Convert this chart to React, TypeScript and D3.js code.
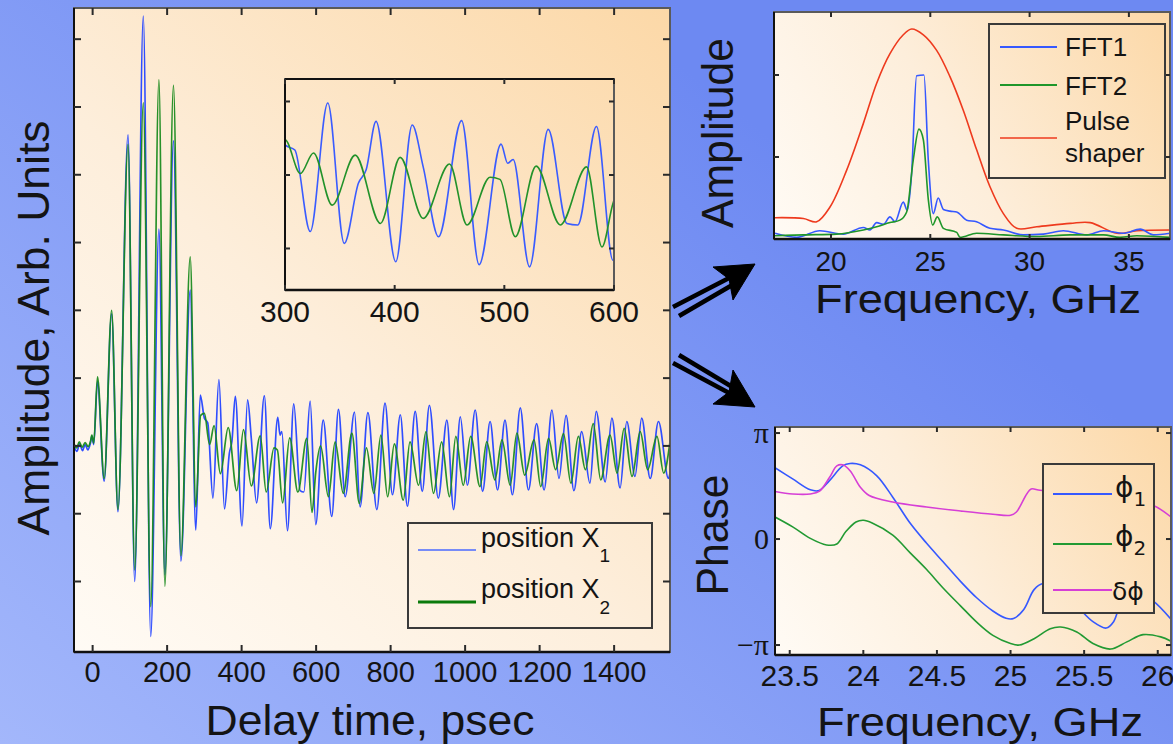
import React from 'react';
import * as d3 from 'd3';

// ---------- data ----------
// time trace at position X1: delay time (psec) / amplitude (arb. units)
const x1Time = [-50, -42, -35, -27, -20, -13, -6, -2, 3, 13, 31, 51, 68, 95, 113, 136, 156, 178, 194, 217, 237, 262, 277, 289,
  300, 309, 323, 339, 354, 367, 374, 383, 401, 416, 426, 440, 461, 477, 497, 503, 508, 523, 540, 557, 567, 584, 599,
  619, 642, 660, 678, 703, 718, 739, 763, 785, 805, 826, 845, 866, 885, 904, 928, 951, 969, 987, 1006, 1027, 1047,
  1067, 1087, 1107, 1127, 1148, 1170, 1192, 1212, 1233, 1252, 1271, 1292, 1313, 1335, 1352, 1376, 1394, 1416, 1434,
  1456, 1474, 1497, 1519, 1546, 1550];
const x1Amp = [0.0, -0.08, 0.03, -0.07, 0.02, -0.06, 0.04, 0.14, 0.02, 0.95, -0.52, 1.95, -0.97, 4.59, -2.0, 6.34, -2.81, 3.2, -1.9, 4.5, -1.7, 2.3, -1.24, 0.75,
  0.41, 0.34, -0.77, 0.98, -0.93, -0.11, 0.07, 0.73, -1.18, 0.68, 0.11, -0.84, 0.74, -1.22, 0.42, 0.16, 0.21, -1.25, 0.62, -0.66, -0.68, 0.66, -1.16,
  0.38, -1.04, 0.54, -0.75, 0.5, -0.9, 0.49, -0.94, 0.63, -0.72, 0.46, -0.89, 0.51, -0.67, 0.6, -0.77, 0.38, -0.94, 0.43, -0.58, 0.53, -0.67,
  0.36, -0.65, 0.38, -0.72, 0.56, -0.65, 0.33, -0.65, 0.53, -0.48, 0.45, -0.66, 0.21, -0.55, 0.51, -0.53, 0.41, -0.62, 0.36,
  -0.45, 0.41, -0.48, 0.36, -0.48, -0.4];

// time trace at position X2
const x2Time = [-50, -43, -36, -28, -20, -12, -6, -2, 3, 13, 31, 51, 68, 95, 113, 136, 156, 178, 194, 217, 237, 262, 277, 290,
  300, 314, 326, 343, 364, 387, 405, 426, 450, 466, 487, 496, 510, 529, 551, 575, 589, 599,
  612, 633, 651, 673, 696, 716, 735, 755, 774, 792, 810, 834, 852, 875, 895, 915, 937, 958, 975, 995, 1015, 1040,
  1058, 1080, 1099, 1121, 1139, 1160, 1185, 1203, 1224, 1243, 1264, 1284, 1304, 1323, 1344, 1364, 1389, 1408, 1427,
  1448, 1470, 1490, 1515, 1533, 1550];
const x2Amp = [0.03, -0.03, 0.06, -0.02, 0.05, -0.01, 0.06, 0.16, 0.04, 1.02, -0.48, 2.0, -0.94, 4.45, -1.83, 5.06, -2.37, 5.4, -2.07, 5.32, -1.62, 2.79, -0.9, 0.45,
  0.48, 0.02, 0.3, -0.41, 0.27, -0.66, 0.24, -0.59, 0.15, -0.68, -0.03, -0.06, -0.84, 0.12, -0.68, 0.11, -0.98, -0.39,
  0.0, -0.75, 0.06, -0.7, 0.19, -0.85, -0.03, -0.7, 0.16, -0.75, 0.03, -0.8, 0.06, -0.58, 0.21, -0.7, 0.06, -0.75, 0.14, -0.58, 0.14, -0.6,
  0.06, -0.5, 0.09, -0.58, 0.19, -0.43, 0.09, -0.6, 0.11, -0.35, 0.18, -0.55, 0.14, -0.35, 0.33, -0.5, 0.16, -0.4, 0.26,
  -0.45, 0.21, -0.35, 0.14, -0.4, 0.06];

// spectra: frequency (GHz) / amplitude
const fft1Freq = [17.18, 18.27, 19.44, 20.62, 21.63, 21.96, 22.3, 22.64, 22.97, 23.22, 23.64, 23.84, 24.06, 24.31, 24.68, 24.9,
  25.15, 25.4, 25.66, 25.99, 26.33, 26.83, 27.33, 28.0, 28.68, 29.68, 30.7, 31.7, 32.88, 33.72, 34.72, 35.57, 36.24, 37.08];
const fft1Amp = [0.07, 0.02, 0.1, 0.06, 0.14, 0.11, 0.2, 0.18, 0.27, 0.21, 0.45, 0.35, 0.8, 1.99, 2.0, 0.96,
  0.31, 0.5, 0.36, 0.34, 0.33, 0.23, 0.21, 0.13, 0.11, 0.05, 0.06, 0.1, 0.05, 0.1, 0.07, 0.12, 0.05, 0.07];
const fft2Freq = [17.18, 18.61, 20.28, 21.63, 22.3, 22.97, 23.47, 23.81, 24.14, 24.43, 24.65, 24.9, 25.12, 25.35, 25.66,
  26.33, 26.5, 27.33, 28.68, 30.36, 32.04, 33.72, 34.55, 35.4, 37.08];
const fft2Amp = [0.04, 0.05, 0.06, 0.11, 0.15, 0.2, 0.23, 0.33, 0.96, 1.34, 1.21, 0.48, 0.17, 0.27, 0.13,
  0.08, 0.02, 0.07, 0.05, 0.03, 0.05, 0.05, 0.02, 0.04, 0.02];
const pulseFreq = [17.18, 18.61, 19.28, 19.95, 20.79, 21.63, 22.3, 22.97, 23.64, 24.06, 24.65, 25.32, 25.99, 26.66, 27.33,
  28.0, 28.68, 29.35, 30.36, 32.04, 33.05, 34.39, 35.4, 37.08];
const pulseAmp = [0.26, 0.25, 0.21, 0.39, 0.84, 1.41, 1.9, 2.26, 2.49, 2.56, 2.49, 2.3, 1.98, 1.57, 1.09,
  0.64, 0.31, 0.13, 0.15, 0.19, 0.2, 0.07, 0.1, 0.11];

// phases: frequency (GHz) / phase in units of pi
const phi1Freq = [23.4, 23.52, 23.64, 23.7, 23.77, 23.86, 23.91, 23.98, 24.09, 24.2, 24.32, 24.43, 24.54, 24.66, 24.77, 24.88,
  24.97, 25.02, 25.09, 25.16, 25.22, 25.34, 25.47, 25.56, 25.65, 25.7, 25.75, 25.8, 25.88, 25.97, 26.09];
const phi1 = [0.673, 0.567, 0.464, 0.458, 0.551, 0.69, 0.713, 0.7, 0.598, 0.395, 0.146, -0.04, -0.212, -0.399, -0.554, -0.679,
  -0.748, -0.75, -0.664, -0.477, -0.42, -0.46, -0.66, -0.78, -0.84, -0.78, -0.6, -0.52, -0.52, -0.586, -0.757];
const phi2Freq = [23.4, 23.52, 23.64, 23.75, 23.82, 23.88, 23.95, 24.0, 24.06, 24.2, 24.32, 24.43, 24.54, 24.66, 24.77, 24.88,
  25.0, 25.06, 25.16, 25.27, 25.34, 25.45, 25.56, 25.68, 25.79, 25.9, 26.02, 26.09];
const phi2 = [0.208, 0.115, 0.006, -0.056, -0.047, 0.068, 0.161, 0.177, 0.152, 0.037, -0.133, -0.288, -0.459, -0.63, -0.784, -0.909,
  -0.986, -1.0, -0.94, -0.846, -0.83, -0.877, -0.986, -1.038, -0.97, -0.902, -0.923, -0.964];
const dphiFreq = [23.4, 23.52, 23.64, 23.7, 23.77, 23.82, 23.86, 23.91, 23.98, 24.04, 24.2, 24.43, 24.66, 24.88, 25.0, 25.04,
  25.11, 25.14, 25.2, 25.4, 25.6, 25.8, 25.97, 26.09];
const dphi = [0.449, 0.425, 0.425, 0.449, 0.58, 0.69, 0.7, 0.645, 0.489, 0.411, 0.349, 0.302, 0.265, 0.234, 0.224, 0.255,
  0.425, 0.472, 0.46, 0.43, 0.4, 0.36, 0.316, 0.208];

// ticks
const timeTicks = [0, 200, 400, 600, 800, 1000, 1200, 1400];
const ampTicks = [-2, -1, 0, 1, 2, 3, 4, 5, 6];
const insetTicks = [300, 400, 500, 600];
const insetAmpTicks = [-1, 0, 1];
const fftTicks = [20, 25, 30, 35];
const fftAmpTicks = [1, 2];
const phaseFreqTicks = [23.5, 24, 24.5, 25, 25.5, 26];
const phaseFreqLabels = ['23.5', '24', '24.5', '25', '25.5', '26'];
const phaseTicks = [-1, 0, 1];
const phaseTickLabels = ['\u2212\u03c0', '0', '\u03c0'];

const FONT = "'Liberation Sans', Arial, Helvetica, sans-serif";
const INK = '#141414';

const zip = (xs: number[], ys: number[]) => xs.map((x, i) => [x, ys[i]] as [number, number]);

type Box = { l: number; r: number; t: number; b: number };

function Ticks({ box, xs, ys, sx, sy, len = 7 }: any) {
  const b: Box = box;
  return (
    <g stroke="#2a2a2a" strokeWidth={2}>
      {xs.map((v: number) => (
        <g key={'x' + v}>
          <line x1={sx(v)} x2={sx(v)} y1={b.b} y2={b.b - len} />
          <line x1={sx(v)} x2={sx(v)} y1={b.t} y2={b.t + len} />
        </g>
      ))}
      {ys.map((v: number) => (
        <g key={'y' + v}>
          <line x1={b.l} x2={b.l + len} y1={sy(v)} y2={sy(v)} />
          <line x1={b.r} x2={b.r - len} y1={sy(v)} y2={sy(v)} />
        </g>
      ))}
    </g>
  );
}

function Frame({ box }: { box: Box }) {
  return (
    <g fill="none">
      <rect x={box.l} y={box.t} width={box.r - box.l} height={box.b - box.t} stroke="#5a5a5a" strokeWidth={2} />
      <line x1={box.l} x2={box.l} y1={box.t} y2={box.b} stroke="#111" strokeWidth={2} />
      <line x1={box.l} x2={box.r} y1={box.b} y2={box.b} stroke="#111" strokeWidth={2.5} />
    </g>
  );
}

export default function App() {
  const mainBox: Box = { l: 74, r: 670, t: 8, b: 652 };
  const insetBox: Box = { l: 285, r: 614, t: 79, b: 290 };
  const fftBox: Box = { l: 774, r: 1170, t: 12, b: 239 };
  const phBox: Box = { l: 775, r: 1171, t: 427, b: 655 };

  const xMain = d3.scaleLinear().domain([-50, 1550]).range([mainBox.l, mainBox.r]);
  const yMain = d3.scaleLinear().domain([-3.04, 6.46]).range([mainBox.b, mainBox.t]);
  const xIn = d3.scaleLinear().domain([300, 600]).range([insetBox.l, insetBox.r]);
  const yIn = d3.scaleLinear().domain([-1.565, 1.306]).range([insetBox.b, insetBox.t]);
  const xF = d3.scaleLinear().domain([17.13, 37.07]).range([fftBox.l, fftBox.r]);
  const yF = d3.scaleLinear().domain([0, 2.768]).range([fftBox.b, fftBox.t]);
  const xP = d3.scaleLinear().domain([23.4, 26.09]).range([phBox.l, phBox.r]);
  const yP = d3.scaleLinear().domain([-1.094, 1.057]).range([phBox.b, phBox.t]);

  const mk = (sx: any, sy: any, curve: any) =>
    d3.line<[number, number]>().x(d => sx(d[0])).y(d => sy(d[1])).curve(curve);

  const lineMain = mk(xMain, yMain, d3.curveMonotoneX);
  const lineIn = mk(xIn, yIn, d3.curveMonotoneX);
  const lineF = mk(xF, yF, d3.curveMonotoneX);
  const linePulse = mk(xF, yF, d3.curveCatmullRom);
  const lineP = mk(xP, yP, d3.curveCatmullRom);

  const x1 = zip(x1Time, x1Amp);
  const x2 = zip(x2Time, x2Amp);
  const x1In = x1.filter(d => d[0] >= 280 && d[0] <= 620);
  const x2In = x2.filter(d => d[0] >= 280 && d[0] <= 620);

  const blue = '#2f4dff';
  const green = '#16891a';

  const grad = (id: string, b: Box) => (
    <linearGradient id={id} gradientUnits="userSpaceOnUse" x1={b.l} y1={b.b} x2={b.r} y2={b.t}>
      <stop offset="0" stopColor="#fffbf5" />
      <stop offset="0.45" stopColor="#fdeedb" />
      <stop offset="1" stopColor="#fcd8a7" />
    </linearGradient>
  );
  const clip = (id: string, b: Box) => (
    <clipPath id={id}>
      <rect x={b.l} y={b.t} width={b.r - b.l} height={b.b - b.t} />
    </clipPath>
  );

  return (
    <svg width={1173} height={744} style={{ position: 'absolute', left: 0, top: 0, display: 'block' }}
      fontFamily={FONT}>
      <defs>
        <linearGradient id="outer" gradientUnits="userSpaceOnUse" x1={0} y1={744} x2={600} y2={0}>
          <stop offset="0" stopColor="#a3b7fb" />
          <stop offset="1" stopColor="#6d89f2" />
        </linearGradient>
        {grad('gMain', mainBox)}
        {grad('gFft', fftBox)}
        {grad('gPh', phBox)}
        {clip('cMain', mainBox)}
        {clip('cIn', insetBox)}
        {clip('cFft', fftBox)}
        {clip('cPh', phBox)}
      </defs>

      <rect width={1173} height={744} fill="url(#outer)" />

      {/* ---------- main time trace ---------- */}
      <rect x={mainBox.l} y={mainBox.t} width={mainBox.r - mainBox.l} height={mainBox.b - mainBox.t} fill="url(#gMain)" />
      <g clipPath="url(#cMain)" fill="none" strokeLinejoin="round">
        <path d={lineMain(x1) || ''} stroke={blue} strokeWidth={1.7} />
        <path d={lineMain(x2) || ''} stroke={green} strokeWidth={1.7} strokeOpacity={0.92} />
      </g>
      <Frame box={mainBox} />
      <Ticks box={mainBox} xs={timeTicks} ys={ampTicks} sx={xMain} sy={yMain} />
      <g fontSize={29} fill={INK} textAnchor="middle">
        {timeTicks.map(t => (
          <text key={t} x={xMain(t)} y={682}>{t}</text>
        ))}
      </g>
      <text x={370} y={735} fontSize={42} fill={INK} textAnchor="middle" textLength={329} lengthAdjust="spacingAndGlyphs">
        Delay time, psec
      </text>
      <text transform="translate(49,328) rotate(-90)" fontSize={44} fill={INK} textAnchor="middle"
        textLength={415} lengthAdjust="spacingAndGlyphs">
        Amplitude, Arb. Units
      </text>

      {/* inset */}
      <g clipPath="url(#cIn)" fill="none" strokeLinejoin="round">
        <path d={lineIn(x1In) || ''} stroke="#3a5cff" strokeWidth={1.6} />
        <path d={lineIn(x2In) || ''} stroke="#22922a" strokeWidth={1.6} />
      </g>
      <Frame box={insetBox} />
      <line x1={insetBox.l} x2={insetBox.r} y1={insetBox.t} y2={insetBox.t} stroke="#111" strokeWidth={2} />
      <Ticks box={insetBox} xs={insetTicks} ys={insetAmpTicks} sx={xIn} sy={yIn} len={5} />
      <g fontSize={30} fill={INK} textAnchor="middle">
        {insetTicks.map(t => (
          <text key={t} x={xIn(t)} y={322}>{t}</text>
        ))}
      </g>

      {/* legend */}
      <rect x={408} y={523} width={244} height={105} fill="none" stroke="#3a3a3a" strokeWidth={2} />
      <line x1={418} x2={476} y1={550} y2={550} stroke="#4a6aff" strokeWidth={1.3} />
      <line x1={418} x2={476} y1={602} y2={602} stroke="#0b7a0b" strokeWidth={3} />
      <text x={481} y={547} fontSize={27} fill={INK}>
        position X<tspan dy={15} fontSize={19}>1</tspan>
      </text>
      <text x={481} y={598} fontSize={27} fill={INK}>
        position X<tspan dy={16} fontSize={19}>2</tspan>
      </text>

      {/* ---------- arrows ---------- */}
      <g fill="#000" stroke="#000">
        <line x1={673} y1={307} x2={731} y2={277} strokeWidth={4.5} />
        <line x1={679} y1={316} x2={734} y2={284} strokeWidth={4.5} />
        <path d="M755,264 L713,267 L729,279 L733,300 Z" strokeWidth={1} />
        <line x1={673} y1={363} x2={731} y2={394} strokeWidth={4.5} />
        <line x1={679} y1={355} x2={734} y2={388} strokeWidth={4.5} />
        <path d="M755,407 L713,404 L729,392 L733,370 Z" strokeWidth={1} />
      </g>

      {/* ---------- spectra ---------- */}
      <rect x={fftBox.l} y={fftBox.t} width={fftBox.r - fftBox.l} height={fftBox.b - fftBox.t} fill="url(#gFft)" />
      <g clipPath="url(#cFft)" fill="none" strokeLinejoin="round">
        <path d={linePulse(zip(pulseFreq, pulseAmp)) || ''} stroke="#ee3a1e" strokeWidth={1.6} />
        <path d={lineF(zip(fft1Freq, fft1Amp)) || ''} stroke="#3558ff" strokeWidth={1.6} />
        <path d={lineF(zip(fft2Freq, fft2Amp)) || ''} stroke="#1f962a" strokeWidth={1.6} />
      </g>
      <Frame box={fftBox} />
      <Ticks box={fftBox} xs={fftTicks} ys={fftAmpTicks} sx={xF} sy={yF} len={5} />
      <g fontSize={28} fill={INK} textAnchor="middle">
        {fftTicks.map(t => (
          <text key={t} x={xF(t)} y={271}>{t}</text>
        ))}
      </g>
      <text x={978} y={313} fontSize={41} fill={INK} textAnchor="middle" textLength={326} lengthAdjust="spacingAndGlyphs">
        Frequency, GHz
      </text>
      <text transform="translate(733,133) rotate(-90)" fontSize={44} fill={INK} textAnchor="middle"
        textLength={190} lengthAdjust="spacingAndGlyphs">
        Amplitude
      </text>
      <rect x={989} y={24} width={176} height={154} fill="url(#gFft)" stroke="#3a3a3a" strokeWidth={2} />
      <line x1={1000} x2={1057} y1={47} y2={47} stroke="#3558ff" strokeWidth={1.8} />
      <line x1={1000} x2={1057} y1={85} y2={85} stroke="#1f962a" strokeWidth={2} />
      <line x1={1000} x2={1057} y1={138} y2={138} stroke="#ee3a1e" strokeWidth={1.6} />
      <g fontSize={26} fill={INK}>
        <text x={1065} y={56}>FFT1</text>
        <text x={1065} y={95}>FFT2</text>
        <text x={1065} y={130}>Pulse</text>
        <text x={1065} y={162}>shaper</text>
      </g>

      {/* ---------- phases ---------- */}
      <rect x={phBox.l} y={phBox.t} width={phBox.r - phBox.l} height={phBox.b - phBox.t} fill="url(#gPh)" />
      <g clipPath="url(#cPh)" fill="none" strokeLinejoin="round">
        <path d={lineP(zip(phi2Freq, phi2)) || ''} stroke="#229a33" strokeWidth={1.6} />
        <path d={lineP(zip(phi1Freq, phi1)) || ''} stroke="#3558ff" strokeWidth={1.6} />
        <path d={lineP(zip(dphiFreq, dphi)) || ''} stroke="#d63fd6" strokeWidth={1.6} />
      </g>
      <Frame box={phBox} />
      <Ticks box={phBox} xs={phaseFreqTicks} ys={phaseTicks} sx={xP} sy={yP} len={5} />
      <g fontSize={30} fill={INK} textAnchor="middle">
        {phaseFreqTicks.map((t, i) => (
          <text key={t} x={xP(t)} y={686}>{phaseFreqLabels[i]}</text>
        ))}
      </g>
      <g fontSize={30} fill={INK} textAnchor="end" fontFamily="'Liberation Serif', serif">
        {phaseTicks.map((t, i) => (
          <text key={t} x={769} y={yP(t) + 10}>{phaseTickLabels[i]}</text>
        ))}
      </g>
      <text x={980} y={736} fontSize={41} fill={INK} textAnchor="middle" textLength={326} lengthAdjust="spacingAndGlyphs">
        Frequency, GHz
      </text>
      <text transform="translate(728,535) rotate(-90)" fontSize={44} fill={INK} textAnchor="middle"
        textLength={121} lengthAdjust="spacingAndGlyphs">
        Phase
      </text>
      <rect x={1043} y={464} width={111} height={149} fill="url(#gPh)" stroke="#3a3a3a" strokeWidth={2} />
      <line x1={1053} x2={1112} y1={494} y2={494} stroke="#3558ff" strokeWidth={2} />
      <line x1={1053} x2={1112} y1={544} y2={544} stroke="#229a33" strokeWidth={2} />
      <line x1={1053} x2={1112} y1={590} y2={590} stroke="#d63fd6" strokeWidth={1.8} />
      <g fontSize={28} fill={INK} fontFamily="'DejaVu Sans', sans-serif">
        <text x={1115} y={497}>{'\u03d5'}<tspan dy={9} fontSize={20}>1</tspan></text>
        <text x={1115} y={546}>{'\u03d5'}<tspan dy={9} fontSize={20}>2</tspan></text>
        <text x={1112} y={600} fontSize={25}>{'\u03b4\u03d5'}</text>
      </g>
    </svg>
  );
}
